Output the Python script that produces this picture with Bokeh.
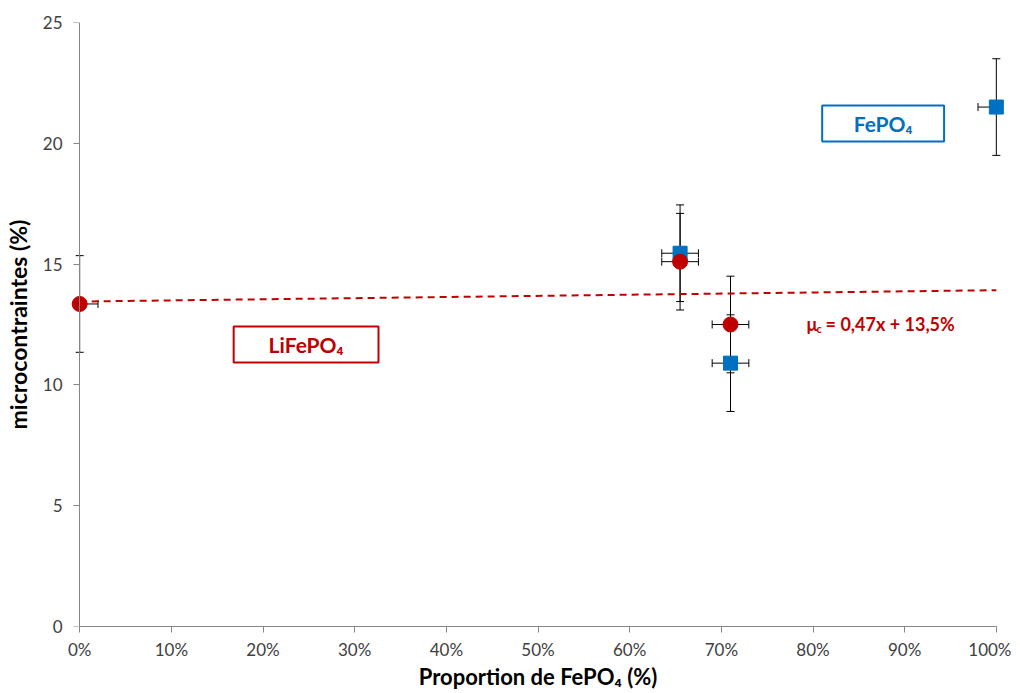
from bokeh.plotting import figure
from bokeh.models import (ColumnDataSource, Whisker, TeeHead, Label, BoxAnnotation,
                          FixedTicker, PrintfTickFormatter, Range1d, LinearAxis)
from bokeh.embed import file_html
from bokeh.resources import INLINE

# ---- data ----
lfp_x = [0, 65.5, 71]          # % FePO4
lfp_y = [13.35, 15.1, 12.5]    # microcontraintes (%)
lfp_xerr = [2, 2, 2]
lfp_yerr = [2, 2, 2]

fp_x = [65.5, 71, 100]
fp_y = [15.45, 10.9, 21.5]
fp_xerr = [2, 2, 2]
fp_yerr = [2, 2, 2]

trend_x = [0, 100]
trend_y = [13.45, 13.92]

x_ticks = [0, 10, 20, 30, 40, 50, 60, 70, 80, 90, 100]
y_ticks = [0, 5, 10, 15, 20, 25]

RED = "#C00000"
BLUE = "#0070C0"
FONT = "Lato"
AXIS_GREY = "#868686"

def err_source(xs, ys, xe, ye):
    return ColumnDataSource(dict(
        x=xs, y=ys,
        ylo=[y - e for y, e in zip(ys, ye)], yhi=[y + e for y, e in zip(ys, ye)],
        xlo=[max(0, x - e) for x, e in zip(xs, xe)], xhi=[min(100, x + e) for x, e in zip(xs, xe)],
    ))

lfp_src = err_source(lfp_x, lfp_y, lfp_xerr, lfp_yerr)
fp_src = err_source(fp_x, fp_y, fp_xerr, fp_yerr)

# x range padded by 1% on each side so edge markers are not clipped; axis drawn 0..100
p = figure(frame_width=935, frame_height=604, output_backend="svg", toolbar_location=None,
           x_range=Range1d(-1, 101), y_range=Range1d(0, 25),
           min_border_left=70, min_border_top=22, min_border_right=6, min_border_bottom=40)
p.outline_line_color = None
p.xgrid.visible = False
p.ygrid.visible = False

for ax in (p.xaxis[0], p.yaxis[0]):
    ax.axis_line_color = AXIS_GREY
    ax.major_tick_line_color = AXIS_GREY
    ax.minor_tick_line_color = None
    ax.major_tick_in = 0
    ax.major_tick_out = 6
    ax.major_label_text_font = FONT
    ax.major_label_text_font_size = "17px"
    ax.major_label_text_color = "#404040"
    ax.axis_label_text_font = FONT
    ax.axis_label_text_font_size = "22px"
    ax.axis_label_text_font_style = "bold"
    ax.axis_label_text_color = "black"

p.xaxis.bounds = (0, 100)
p.xaxis.ticker = FixedTicker(ticks=x_ticks)
p.xaxis.formatter = PrintfTickFormatter(format="%d%%")
p.xaxis.axis_label = "Proportion de FePO\u2084 (%)"
p.xaxis.major_label_standoff = 6
p.xaxis.axis_label_standoff = 0

# left (panel) y axis: only labels and title
ya = p.yaxis[0]
ya.ticker = FixedTicker(ticks=y_ticks)
ya.axis_line_color = None
ya.major_tick_line_color = None
ya.major_tick_out = 0
ya.major_label_standoff = 8
ya.axis_label = "microcontraintes (%)"
ya.axis_label_standoff = 8
ya.axis_label_text_font_size = "23px"

# y axis line + ticks at x = 0 (labels not drawn: they come from the panel axis)
yline = LinearAxis(fixed_location=0, ticker=FixedTicker(ticks=y_ticks),
                   axis_line_color=AXIS_GREY, major_tick_line_color=AXIS_GREY,
                   minor_tick_line_color=None, major_tick_in=0, major_tick_out=6,
                   major_label_text_color=None, major_label_standoff=0)
p.add_layout(yline, "left")

# error bars
for src in (fp_src, lfp_src):
    p.add_layout(Whisker(source=src, base="x", lower="ylo", upper="yhi", dimension="height",
                         line_color="black", line_width=1,
                         lower_head=TeeHead(size=8, line_color="black", line_width=1),
                         upper_head=TeeHead(size=8, line_color="black", line_width=1)))
    p.add_layout(Whisker(source=src, base="y", lower="xlo", upper="xhi", dimension="width",
                         line_color="black", line_width=1,
                         lower_head=TeeHead(size=8, line_color="black", line_width=1),
                         upper_head=TeeHead(size=8, line_color="black", line_width=1)))

# trend line
p.line(trend_x, trend_y, line_color=RED, line_width=2, line_dash="7 5")

# markers
p.scatter("x", "y", source=fp_src, marker="square", size=14, fill_color=BLUE, line_color=BLUE)
p.scatter("x", "y", source=lfp_src, marker="circle", size=15, fill_color=RED, line_color=RED)

# annotation boxes
p.add_layout(BoxAnnotation(left=81.0, right=94.3, bottom=20.07, top=21.56,
                           fill_color="white", fill_alpha=1, line_color=BLUE, line_alpha=1,
                           line_width=2, level="underlay"))
p.add_layout(BoxAnnotation(left=16.8, right=32.6, bottom=10.93, top=12.42,
                           fill_color="white", fill_alpha=1, line_color=RED, line_alpha=1,
                           line_width=2, level="underlay"))

p.add_layout(Label(x=87.65, y=20.82, text="FePO\u2084", text_align="center", text_baseline="middle",
                   text_font=FONT, text_font_size="21px", text_font_style="bold", text_color=BLUE))
p.add_layout(Label(x=24.7, y=11.67, text="LiFePO\u2084", text_align="center", text_baseline="middle",
                   text_font=FONT, text_font_size="21px", text_font_style="bold", text_color=RED))

# equation
p.add_layout(Label(x=79.3, y=12.54, text="\u03bc", text_align="left", text_baseline="middle",
                   text_font=FONT, text_font_size="18px", text_font_style="bold", text_color=RED))
p.add_layout(Label(x=79.3, y=12.54, x_offset=10, y_offset=-5, text="c", text_align="left",
                   text_baseline="middle", text_font=FONT, text_font_size="11px",
                   text_font_style="bold", text_color=RED))
p.add_layout(Label(x=79.3, y=12.54, x_offset=19, text="= 0,47x + 13,5%", text_align="left",
                   text_baseline="middle", text_font=FONT, text_font_size="18px",
                   text_font_style="bold", text_color=RED))

open("out.html", "w").write(file_html(p, INLINE))
